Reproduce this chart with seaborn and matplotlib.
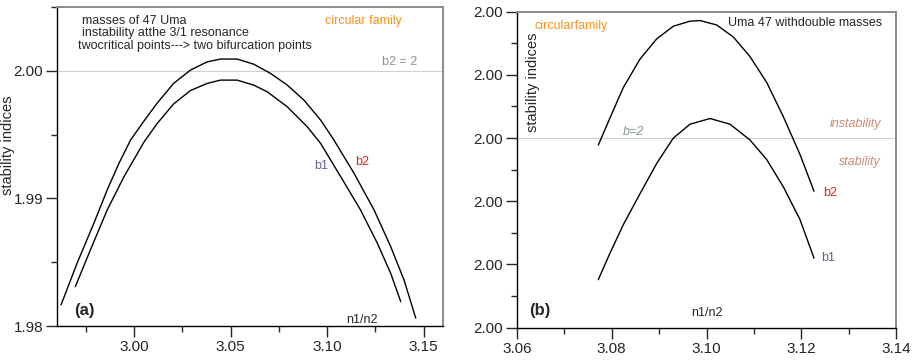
import numpy as np
import pandas as pd
import seaborn as sns
import matplotlib.pyplot as plt
from matplotlib.ticker import MultipleLocator, FormatStrFormatter

sns.set_style('ticks')
plt.rcParams['font.family'] = ['Liberation Sans', 'DejaVu Sans']

# panel (a): masses of 47 Uma, 3/1 resonance
a_b2_x = [2.9621, 2.9704, 2.9791, 2.9860, 2.9921, 2.9981, 3.0048, 3.0118, 3.0204,
          3.0291, 3.0378, 3.0447, 3.0533, 3.0619, 3.0706, 3.0793, 3.0879, 3.0966,
          3.1035, 3.1139, 3.1243, 3.1329, 3.1398, 3.1459]
a_b2_y = [1.98166, 1.98492, 1.98805, 1.99066, 1.99275, 1.99457, 1.99601, 1.99745, 1.99901,
          2.00005, 2.00070, 2.00092, 2.00092, 2.00052, 1.99980, 1.99888, 1.99771, 1.99614,
          1.99457, 1.99197, 1.98909, 1.98622, 1.98361, 1.98061]
a_b1_x = [2.9695, 2.9773, 2.9860, 2.9947, 3.0050, 3.0118, 3.0204, 3.0291, 3.0378,
          3.0447, 3.0533, 3.0619, 3.0689, 3.0793, 3.0897, 3.0966, 3.1070, 3.1173,
          3.1260, 3.1329, 3.1381]
a_b1_y = [1.98309, 1.98596, 1.98909, 1.99170, 1.99440, 1.99585, 1.99740, 1.99845, 1.99901,
          1.99927, 1.99927, 1.99888, 1.99836, 1.99718, 1.99561, 1.99431, 1.99170, 1.98909,
          1.98648, 1.98413, 1.98191]

# panel (b): Uma 47 with double masses
b_b2_x = [3.07716, 3.07963, 3.08244, 3.08596, 3.08949, 3.09299, 3.09652, 3.09863,
          3.10215, 3.10566, 3.10918, 3.11271, 3.11621, 3.11974, 3.12269]
b_b2_y = [1.99989, 2.00032, 2.00080, 2.00125, 2.00157, 2.00177, 2.00185, 2.00186,
          2.00179, 2.00160, 2.00129, 2.00088, 2.00034, 1.99974, 1.99916]
b_b1_x = [3.07716, 3.07963, 3.08244, 3.08596, 3.08949, 3.09299, 3.09652, 3.10074,
          3.10496, 3.10918, 3.11271, 3.11621, 3.11974, 3.12269]
b_b1_y = [1.99776, 1.99818, 1.99863, 1.99912, 1.99960, 2.00000, 2.00022, 2.00031,
          2.00022, 1.99997, 1.99966, 1.99923, 1.99871, 1.99810]

b_critical = 2.0

ORANGE = '#f7941d'
RED = '#e41e26'
PURPLE = '#6a5b8a'
GREY = '#8c9494'
BROWN = '#c98a72'


def style_axes(ax):
    for s in ['top', 'right']:
        ax.spines[s].set_color('#8a8a8a')
        ax.spines[s].set_linewidth(1.4)
    for s in ['left', 'bottom']:
        ax.spines[s].set_color('black')
        ax.spines[s].set_linewidth(1.0)
    ax.tick_params(which='major', direction='out', length=8, width=1, pad=2, labelsize=11)
    ax.tick_params(which='minor', direction='out', length=4, width=1)
    ax.set_xlabel('')
    ax.set_ylabel('')


fig = plt.figure(figsize=(9.16, 3.6), dpi=100)
ax1 = fig.add_axes([57 / 916, 1 - 326 / 360, 386 / 916, 319 / 360])
ax2 = fig.add_axes([517 / 916, 1 - 327.7 / 360, 379 / 916, 316 / 360])

# ---- (a)
df_a2 = pd.DataFrame({'x': a_b2_x, 'y': a_b2_y})
df_a1 = pd.DataFrame({'x': a_b1_x, 'y': a_b1_y})
ax1.axhline(b_critical, color='#d0d0d0', lw=0.8, zorder=1)
sns.lineplot(data=df_a2, x='x', y='y', ax=ax1, color='black', lw=1, sort=False, estimator=None)
sns.lineplot(data=df_a1, x='x', y='y', ax=ax1, color='black', lw=1, sort=False, estimator=None)
ax1.set_xlim(2.96, 3.16)
ax1.set_ylim(1.98, 2.005)
ax1.xaxis.set_major_locator(MultipleLocator(0.05))
ax1.xaxis.set_minor_locator(MultipleLocator(0.025))
ax1.yaxis.set_major_locator(MultipleLocator(0.01))
ax1.yaxis.set_minor_locator(MultipleLocator(0.005))
ax1.xaxis.set_major_formatter(FormatStrFormatter('%.2f'))
ax1.yaxis.set_major_formatter(FormatStrFormatter('%.2f'))
style_axes(ax1)
ax1.set_ylabel('stability indices', fontsize=10.5)
ax1.yaxis.set_label_coords(-0.11, 0.567)

ax1.text(0.065, 0.956, 'masses of 47 Uma', transform=ax1.transAxes, fontsize=9, va='center')
ax1.text(0.065, 0.918, 'instability atthe 3/1 resonance', transform=ax1.transAxes, fontsize=9, va='center')
ax1.text(0.054, 0.878, 'twocritical points---> two bifurcation points', transform=ax1.transAxes,
         fontsize=9, va='center')
ax1.text(0.694, 0.956, 'circular family', transform=ax1.transAxes, fontsize=9, va='center', color=ORANGE)
ax1.text(0.933, 0.828, 'b2 = 2', transform=ax1.transAxes, fontsize=9, va='center', ha='right', color=GREY)
ax1.text(0.684, 0.502, 'b1', transform=ax1.transAxes, fontsize=9, va='center', ha='center', color=PURPLE)
ax1.text(0.790, 0.514, 'b2', transform=ax1.transAxes, fontsize=9, va='center', ha='center', color=RED)
ax1.text(0.070, 0.050, '(a)', transform=ax1.transAxes, fontsize=12, fontweight='bold', va='center', ha='center')
ax1.text(0.790, 0.019, 'n1/n2', transform=ax1.transAxes, fontsize=9, va='center', ha='center')

# ---- (b)
df_b2 = pd.DataFrame({'x': b_b2_x, 'y': b_b2_y})
df_b1 = pd.DataFrame({'x': b_b1_x, 'y': b_b1_y})
ax2.axhline(b_critical, color='#d0d0d0', lw=0.8, zorder=1)
sns.lineplot(data=df_b2, x='x', y='y', ax=ax2, color='black', lw=1, sort=False, estimator=None)
sns.lineplot(data=df_b1, x='x', y='y', ax=ax2, color='black', lw=1, sort=False, estimator=None)
ax2.set_xlim(3.06, 3.14)
ax2.set_ylim(1.997, 2.002)
ax2.xaxis.set_major_locator(MultipleLocator(0.02))
ax2.xaxis.set_minor_locator(MultipleLocator(0.01))
ax2.yaxis.set_major_locator(MultipleLocator(0.001))
ax2.yaxis.set_minor_locator(MultipleLocator(0.0005))
ax2.xaxis.set_major_formatter(FormatStrFormatter('%.2f'))
ax2.yaxis.set_major_formatter(FormatStrFormatter('%.2f'))
style_axes(ax2)

ax2.text(0.042, 0.778, 'stability indices', transform=ax2.transAxes, fontsize=10.5,
         rotation=90, va='center', ha='center')
ax2.text(0.963, 0.964, 'Uma 47 withdouble masses', transform=ax2.transAxes, fontsize=9,
         va='center', ha='right')
ax2.text(0.045, 0.955, 'circularfamily', transform=ax2.transAxes, fontsize=9, va='center', color=ORANGE)
ax2.text(0.280, 0.620, 'b=2', transform=ax2.transAxes, fontsize=9, va='center', style='italic', color=GREY)
ax2.text(0.960, 0.645, 'instability', transform=ax2.transAxes, fontsize=9, va='center', ha='right',
         style='italic', color=BROWN)
ax2.text(0.960, 0.524, 'stability', transform=ax2.transAxes, fontsize=9, va='center', ha='right',
         style='italic', color=BROWN)
ax2.text(0.807, 0.426, 'b2', transform=ax2.transAxes, fontsize=9, va='center', color=RED)
ax2.text(0.802, 0.221, 'b1', transform=ax2.transAxes, fontsize=9, va='center', color=PURPLE)
ax2.text(0.061, 0.053, '(b)', transform=ax2.transAxes, fontsize=12, fontweight='bold', va='center', ha='center')
ax2.text(0.500, 0.047, 'n1/n2', transform=ax2.transAxes, fontsize=9, va='center', ha='center')

fig.savefig('out.png', dpi=100)
